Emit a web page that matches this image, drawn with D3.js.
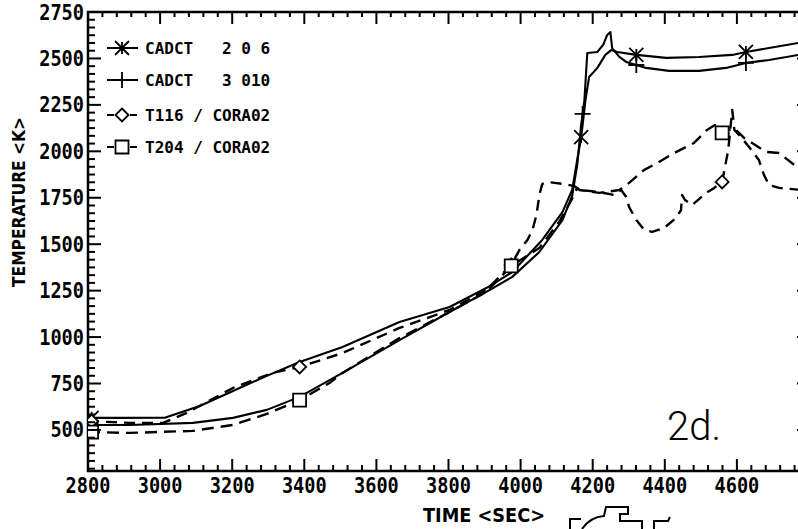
<!DOCTYPE html>
<html>
<head>
<meta charset="utf-8">
<script src="https://cdn.jsdelivr.net/npm/d3@7"></script>
<style>
  body { margin: 0; background: #fff; }
  svg { display: block; }
</style>
</head>
<body>
<svg id="chart" width="798" height="529"></svg>
<script>
// CADCT calculation, location 2 0 6  [time (s), temperature (K)]
const cadct206 = [
  [2800,565],[2880,565],[3013,566],[3110,629],[3202,710],[3296,791],[3387,866],[3506,947],
  [3664,1081],[3803,1162],[3905,1264],[3977,1350],[4060,1523],[4116,1673],[4143,1792],
  [4157,1953],[4168,2077],[4180,2276],[4190,2400],[4213,2449],[4235,2519],[4252,2546],
  [4268,2535],[4321,2519],[4404,2503],[4495,2508],[4587,2519],[4625,2535],[4689,2556],[4790,2590]
];
// CADCT calculation, location 3 010
const cadct3010 = [
  [2800,527],[2916,527],[3091,538],[3202,565],[3296,608],[3387,678],[3506,807],[3664,984],
  [3803,1135],[3905,1243],[3977,1324],[4052,1458],[4116,1630],[4143,1760],[4157,1926],
  [4168,2142],[4177,2276],[4185,2529],[4213,2535],[4229,2573],[4240,2626],[4249,2642],
  [4254,2556],[4274,2508],[4293,2481],[4348,2449],[4412,2433],[4495,2433],[4570,2449],
  [4625,2476],[4689,2492],[4790,2525]
];
// Thermocouple T116, CORA-02 test
const t116 = [
  [2800,548],[2916,538],[3008,538],[3074,592],[3202,726],[3312,807],[3387,839],[3506,914],
  [3664,1049],[3803,1146],[3905,1254],[3974,1388],[3997,1469],[4019,1523],[4033,1577],
  [4044,1657],[4052,1765],[4060,1824],[4074,1835],[4094,1830],[4121,1824],[4149,1813],
  [4163,1792],[4218,1781],[4260,1765],[4279,1792],[4293,1754],[4301,1700],[4321,1630],
  [4343,1577],[4365,1566],[4398,1587],[4431,1641],[4445,1684],[4448,1765],[4456,1738],
  [4476,1711],[4515,1776],[4537,1803],[4559,1835],[4567,1916],[4576,2007],[4587,2223],
  [4593,2115],[4606,2088],[4634,2023],[4661,1953],[4675,1873],[4689,1819],[4717,1803],[4790,1790]
];
// Thermocouple T204, CORA-02 test
const t204 = [
  [2800,489],[2916,484],[3091,495],[3202,527],[3296,586],[3387,661],[3470,753],[3506,807],
  [3664,995],[3803,1135],[3905,1243],[3974,1383],[4052,1480],[4107,1620],[4141,1738],
  [4157,1803],[4163,1792],[4218,1776],[4274,1792],[4301,1830],[4343,1900],[4379,1937],
  [4426,1991],[4481,2045],[4517,2115],[4539,2142],[4559,2099],[4592,2126],[4620,2072],
  [4681,1997],[4717,1991],[4790,1880]
];

// Times at which each curve carries its symbol
const marks206 = [2810, 4168, 4321, 4625];
const marks3010 = [2810, 4172, 4321, 4625];
const marks116 = [2810, 3387, 3974, 4559];
const marks204 = [2810, 3387, 3974, 4559];

// Axis ticks and labels
const xMajor = [2800, 3000, 3200, 3400, 3600, 3800, 4000, 4200, 4400, 4600, 4800];
const xLabels = ["2800", "3000", "3200", "3400", "3600", "3800", "4000", "4200", "4400", "4600"];
const yMajor = [500, 750, 1000, 1250, 1500, 1750, 2000, 2250, 2500, 2750];
const yLabels = ["500", "750", "1000", "1250", "1500", "1750", "2000", "2250", "2500", "2750"];

const legendNames = ["CADCT   2 0 6", "CADCT   3 010", "T116 / CORA02", "T204 / CORA02"];

const svg = d3.select("#chart");
const x = d3.scaleLinear([2800, 4800], [88, 809]);
const y = d3.scaleLinear([279, 2750], [471, 12]);
const [x0, x1] = x.range();
const [yb, yt] = y.range();

const digitFont = "'DejaVu Sans Mono', 'Liberation Mono', monospace";
const titleFont = "'DejaVu Sans Condensed', 'DejaVu Sans', sans-serif";

// minor tick values
const xMinor = d3.range(2800, 4801, 40).filter(v => (v - 2800) % 200 !== 0);
const yMinor = [];
for (let v = 250; v < 2750; v += 250) {
  for (let k = 1; k < 6; k++) {
    const m = v + k * 250 / 6;
    if (m > y.domain()[0] && m < 2750) yMinor.push(m);
  }
}

// frame
svg.append("path")
  .attr("d", `M${x1},${yt}H${x0}V${yb}H${x1}V${yt}`)
  .attr("fill", "none").attr("stroke", "#000").attr("stroke-width", 2.5);

// tick labels
const charW = 11.2;
svg.append("g").selectAll("text").data(xLabels).join("text")
  .attr("x", (d, i) => x(xMajor[i])).attr("y", 493)
  .attr("text-anchor", "middle")
  .attr("textLength", d => d.length * charW).attr("lengthAdjust", "spacingAndGlyphs")
  .style("font-family", digitFont).style("font-size", "21px").style("font-weight", "bold")
  .text(d => d);
svg.append("g").selectAll("text").data(yLabels).join("text")
  .attr("x", 84).attr("y", (d, i) => y(yMajor[i]) + 7.5)
  .attr("text-anchor", "end")
  .attr("textLength", d => d.length * charW).attr("lengthAdjust", "spacingAndGlyphs")
  .style("font-family", digitFont).style("font-size", "21px").style("font-weight", "bold")
  .text(d => d);

// curves
svg.append("defs").append("clipPath").attr("id", "plot")
  .append("rect").attr("x", x0).attr("y", yt).attr("width", x1 - x0).attr("height", yb - yt);

const line = d3.line().x(d => x(d[0])).y(d => y(d[1]));
const plot = svg.append("g").attr("clip-path", "url(#plot)");

const series = [
  { data: cadct206, marks: marks206, dash: null, width: 2.1, symbol: "cross" },
  { data: cadct3010, marks: marks3010, dash: null, width: 2.1, symbol: "plus" },
  { data: t116, marks: marks116, dash: "11,7", width: 2.4, symbol: "diamond" },
  { data: t204, marks: marks204, dash: "12,7", width: 2.4, symbol: "square" }
];

const symbolPath = {
  cross: "M-7,-7L7,7M-7,7L7,-7M0,-6V6",
  plus: "M-8,0H8M0,-8V8",
  diamond: "M0,-6.5L6.5,0L0,6.5L-6.5,0Z",
  square: "M-6.5,-6.5H6.5V6.5H-6.5Z"
};

series.forEach(s => {
  plot.append("path").datum(s.data)
    .attr("d", line)
    .attr("fill", "none").attr("stroke", "#000")
    .attr("stroke-width", s.width)
    .attr("stroke-linejoin", "round")
    .attr("stroke-dasharray", s.dash);
  // value of the curve at a given time (piecewise linear along the drawn line)
  const along = d3.scaleLinear(s.data.map(d => d[0]), s.data.map(d => d[1]));
  plot.selectAll(null).data(s.marks).join("path")
    .attr("transform", t => `translate(${x(t)},${y(along(t))})`)
    .attr("d", symbolPath[s.symbol])
    .attr("fill", s.symbol === "diamond" || s.symbol === "square" ? "#fff" : "none")
    .attr("stroke", "#000").attr("stroke-width", 1.8);
});

// legend
const legendRows = [48, 80, 115, 147];
const legend = svg.append("g");
series.forEach((s, i) => {
  const ry = legendRows[i];
  if (s.dash) {
    legend.append("path").attr("d", `M107,${ry}H114M130,${ry}H137`)
      .attr("stroke", "#000").attr("stroke-width", 2.2);
  } else {
    legend.append("path").attr("d", `M107,${ry}H138`)
      .attr("stroke", "#000").attr("stroke-width", 2);
  }
  legend.append("path").attr("transform", `translate(122,${ry})`)
    .attr("d", symbolPath[s.symbol])
    .attr("fill", s.dash ? "#fff" : "none")
    .attr("stroke", "#000").attr("stroke-width", 1.8);
  legend.append("text")
    .attr("x", 145).attr("y", ry + 6)
    .attr("xml:space", "preserve")
    .style("white-space", "pre")
    .style("font-family", digitFont).style("font-size", "16px").style("font-weight", "bold")
    .text(legendNames[i]);
});

// axis titles
svg.append("text")
  .attr("x", 484).attr("y", 522).attr("text-anchor", "middle")
  .attr("textLength", 122).attr("lengthAdjust", "spacingAndGlyphs")
  .style("font-family", titleFont).style("font-size", "20px").style("font-weight", "bold")
  .text("TIME <SEC>");
svg.append("text")
  .attr("transform", "translate(25,202) rotate(-90)").attr("text-anchor", "middle")
  .attr("textLength", 170).attr("lengthAdjust", "spacingAndGlyphs")
  .style("font-family", titleFont).style("font-size", "18px").style("font-weight", "bold")
  .text("TEMPERATURE <K>");

// panel tag
svg.append("text")
  .attr("x", 667).attr("y", 440)
  .style("font-family", "Roboto, 'Open Sans', sans-serif").style("font-size", "40px").style("font-weight", 300)
  .text("2d.");

// stamp outline at the foot of the page
svg.append("path")
  .attr("d", "M570,529V519H581M582,529Q590,517 604,516L606,507H628V514H620V521H642V529M654,529V521H668L670,517")
  .attr("fill", "none").attr("stroke", "#000").attr("stroke-width", 2);

// tick marks on all four sides, pointing into the plot
const tickMarks = svg.append("g");
const tickSets = [
  { vals: xMajor, side: "bottom", len: 12 },
  { vals: xMinor, side: "bottom", len: 6 },
  { vals: xMajor, side: "top", len: 12 },
  { vals: xMinor, side: "top", len: 5 },
  { vals: yMajor, side: "left", len: 13 },
  { vals: yMinor, side: "left", len: 7 },
  { vals: yMajor, side: "right", len: 12 }
];
tickSets.forEach(set => {
  set.vals.forEach(v => {
    let d;
    if (set.side === "bottom") d = `M${x(v)},${yb}V${yb - set.len}`;
    else if (set.side === "top") d = `M${x(v)},${yt}V${yt + set.len}`;
    else if (set.side === "left") d = `M${x0},${y(v)}H${x0 + set.len}`;
    else d = `M${x1},${y(v)}H${x1 - set.len}`;
    tickMarks.append("path").attr("d", d)
      .attr("stroke", "#000").attr("stroke-width", 2);
  });
});
</script>
</body>
</html>
